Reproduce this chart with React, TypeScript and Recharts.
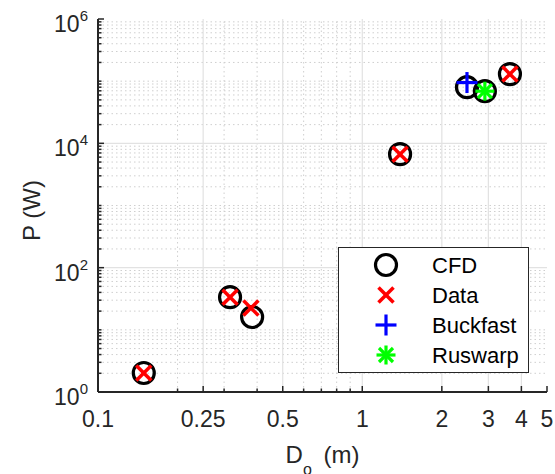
import { ScatterChart, Scatter, XAxis, YAxis, ReferenceLine, Legend } from "recharts";

// diameter D_o (m) and power P (W)
const cfdD = [0.149, 0.316, 0.383, 1.39, 2.49, 2.91, 3.62];
const cfdP = [2.02, 33.5, 16.1, 6700, 80000, 69000, 130000];
const dataD = [0.149, 0.316, 0.379, 1.39, 3.62];
const dataP = [2.02, 33.5, 22.4, 6700, 130000];
const buckfastD = [2.49];
const buckfastP = [95000];
const ruswarpD = [2.91];
const ruswarpP = [69000];

const seriesNames = ["CFD", "Data", "Buckfast", "Ruswarp"];

const xTickLabels = [0.1, 0.25, 0.5, 1, 2, 3, 4, 5];
const xMinorTicks = [0.2, 0.3, 0.4, 0.5, 0.6, 0.7, 0.8, 0.9, 2, 3, 4, 5];
const yTickLabels = [1, 100, 10000, 1000000];
const yDecades = [1, 10, 100, 1000, 10000, 100000];
const yMinorTicks = yDecades.flatMap((d) => [2, 3, 4, 5, 6, 7, 8, 9, 10].map((k) => k * d));

const xTicks = Array.from(new Set([...xTickLabels, ...xMinorTicks])).sort((a, b) => a - b);
const yTicks = Array.from(new Set([...yTickLabels, ...yMinorTicks])).sort((a, b) => a - b);

const toPoints = (xs: number[], ys: number[]) => xs.map((d, i) => ({ d, p: ys[i] }));

const AXIS = "#262626";
const FONT = "'Liberation Sans', Arial, sans-serif";
const MAJOR_GRID = "#e2e2e2";
const MINOR_GRID = "#cfcfcf";

// marker glyphs, matlab style
const Circle = ({ cx, cy }: any) => (
  <circle cx={cx} cy={cy} r={10.5} fill="none" stroke="#000" strokeWidth={3.2} />
);
const Cross = ({ cx, cy }: any) => (
  <g stroke="#ff0000" strokeWidth={3.5}>
    <line x1={cx - 7.5} y1={cy - 7.5} x2={cx + 7.5} y2={cy + 7.5} />
    <line x1={cx - 7.5} y1={cy + 7.5} x2={cx + 7.5} y2={cy - 7.5} />
  </g>
);
const Plus = ({ cx, cy }: any) => (
  <g stroke="#0000ff" strokeWidth={3.2}>
    <line x1={cx - 10.5} y1={cy} x2={cx + 10.5} y2={cy} />
    <line x1={cx} y1={cy - 10.5} x2={cx} y2={cy + 10.5} />
  </g>
);
const Star = ({ cx, cy }: any) => (
  <g stroke="#00ff00" strokeWidth={3.2}>
    <line x1={cx - 9.5} y1={cy} x2={cx + 9.5} y2={cy} />
    <line x1={cx} y1={cy - 9.5} x2={cx} y2={cy + 9.5} />
    <line x1={cx - 7} y1={cy - 7} x2={cx + 7} y2={cy + 7} />
    <line x1={cx - 7} y1={cy + 7} x2={cx + 7} y2={cy - 7} />
  </g>
);
const markers = [Circle, Cross, Plus, Star];

const BottomTick = ({ x, y, payload }: any) => {
  const major = xTickLabels.includes(payload.value);
  return (
    <g>
      <line x1={x} y1={y} x2={x} y2={y - (major ? 6 : 3.5)} stroke={AXIS} strokeWidth={1.5} />
      {major && (
        <text x={x} y={y + 35} textAnchor="middle" fill={AXIS} fontSize={23} fontFamily={FONT}>
          {String(payload.value)}
        </text>
      )}
    </g>
  );
};

const TopTick = ({ x, y, payload }: any) => {
  const major = xTickLabels.includes(payload.value);
  return <line x1={x} y1={y} x2={x} y2={y + (major ? 6 : 3.5)} stroke={AXIS} strokeWidth={1.5} />;
};

const LeftTick = ({ x, y, payload }: any) => {
  const major = yTickLabels.includes(payload.value);
  return (
    <g>
      <line x1={x} y1={y} x2={x + (major ? 6 : 3.5)} y2={y} stroke={AXIS} strokeWidth={1.5} />
      {major && (
        <text x={x - 10} y={y + 13} textAnchor="end" fill={AXIS} fontSize={23} fontFamily={FONT}>
          <tspan>10</tspan>
          <tspan dy={-11} fontSize={15}>
            {Math.round(Math.log10(payload.value))}
          </tspan>
        </text>
      )}
    </g>
  );
};

const RightTick = ({ x, y, payload }: any) => {
  const major = yTickLabels.includes(payload.value);
  return <line x1={x} y1={y} x2={x - (major ? 6 : 3.5)} y2={y} stroke={AXIS} strokeWidth={1.5} />;
};

const XTitle = ({ viewBox }: any) => (
  <text
    x={viewBox.x + viewBox.width / 2}
    y={viewBox.y + 71}
    textAnchor="middle"
    fill={AXIS}
    fontSize={24}
    fontFamily={FONT}
  >
    <tspan>D</tspan>
    <tspan dy={12} fontSize={16}>o</tspan>
    <tspan dy={-12} dx={5}> (m)</tspan>
  </text>
);

const YTitle = ({ viewBox }: any) => {
  const cx = viewBox.x + 31;
  const cy = viewBox.y + viewBox.height / 2 + 5;
  return (
    <text
      x={cx}
      y={cy}
      transform={`rotate(-90 ${cx} ${cy})`}
      textAnchor="middle"
      dominantBaseline="central"
      fill={AXIS}
      fontSize={24}
      fontFamily={FONT}
    >
      P (W)
    </text>
  );
};

const LegendBox = () => (
  <svg width={191} height={126} style={{ display: "block" }}>
    <rect x={0.5} y={0.5} width={190} height={125} fill="#fff" stroke={AXIS} strokeWidth={1} />
    {seriesNames.map((name, i) => {
      const Marker = markers[i];
      const cy = 18 + i * 30;
      return (
        <g key={name}>
          <Marker cx={48} cy={cy} />
          <text x={94} y={cy} dominantBaseline="central" fill="#000" fontSize={22} fontFamily={FONT}>
            {name}
          </text>
        </g>
      );
    })}
  </svg>
);

export default function App() {
  return (
    <div style={{ position: "absolute", left: 0, top: 0, background: "#fff" }}>
      <ScatterChart width={555} height={474} margin={{ top: 19, right: 8, left: 0, bottom: 0 }}>
        <XAxis
          dataKey="d"
          type="number"
          scale="log"
          domain={[0.1, 5]}
          allowDataOverflow
          ticks={xTicks}
          interval={0}
          tickSize={0}
          tickMargin={0}
          tickLine={false}
          tick={<BottomTick />}
          axisLine={{ stroke: AXIS, strokeWidth: 2 }}
          height={82}
          label={XTitle}
        />
        <XAxis
          xAxisId="top"
          orientation="top"
          type="number"
          scale="log"
          domain={[0.1, 5]}
          allowDataOverflow
          ticks={xTicks}
          interval={0}
          tickSize={0}
          tickMargin={0}
          tickLine={false}
          tick={<TopTick />}
          axisLine={{ stroke: AXIS, strokeWidth: 2 }}
          height={0}
        />
        <YAxis
          dataKey="p"
          type="number"
          scale="log"
          domain={[1, 1000000]}
          allowDataOverflow
          ticks={yTicks}
          interval={0}
          tickSize={0}
          tickMargin={0}
          tickLine={false}
          tick={<LeftTick />}
          axisLine={{ stroke: AXIS, strokeWidth: 2 }}
          width={98}
          label={YTitle}
        />
        <YAxis
          yAxisId="right"
          orientation="right"
          type="number"
          scale="log"
          domain={[1, 1000000]}
          allowDataOverflow
          ticks={yTicks}
          interval={0}
          tickSize={0}
          tickMargin={0}
          tickLine={false}
          tick={<RightTick />}
          axisLine={{ stroke: AXIS, strokeWidth: 2 }}
          width={0}
        />

        {xMinorTicks
          .filter((v) => !xTickLabels.includes(v))
          .map((v) => (
            <ReferenceLine key={`xm${v}`} x={v} stroke={MINOR_GRID} strokeDasharray="1.5 3" />
          ))}
        {yMinorTicks
          .filter((v) => !yTickLabels.includes(v))
          .map((v) => (
            <ReferenceLine key={`ym${v}`} y={v} stroke={MINOR_GRID} strokeDasharray="1.5 3" />
          ))}
        {xTickLabels.slice(1, -1).map((v) => (
          <ReferenceLine key={`xM${v}`} x={v} stroke={MAJOR_GRID} strokeWidth={1.2} />
        ))}
        {yTickLabels.slice(1, -1).map((v) => (
          <ReferenceLine key={`yM${v}`} y={v} stroke={MAJOR_GRID} strokeWidth={1.2} />
        ))}

        <Scatter name="CFD" data={toPoints(cfdD, cfdP)} shape={<Circle />} isAnimationActive={false} />
        <Scatter name="Data" data={toPoints(dataD, dataP)} shape={<Cross />} isAnimationActive={false} />
        <Scatter
          name="Buckfast"
          data={toPoints(buckfastD, buckfastP)}
          shape={<Plus />}
          isAnimationActive={false}
        />
        <Scatter
          name="Ruswarp"
          data={toPoints(ruswarpD, ruswarpP)}
          shape={<Star />}
          isAnimationActive={false}
        />

        <Legend
          layout="vertical"
          align="center"
          verticalAlign="middle"
          content={<LegendBox />}
          wrapperStyle={{ position: "absolute", left: 338, top: 247, width: 191, height: 126 }}
        />
      </ScatterChart>
    </div>
  );
}
